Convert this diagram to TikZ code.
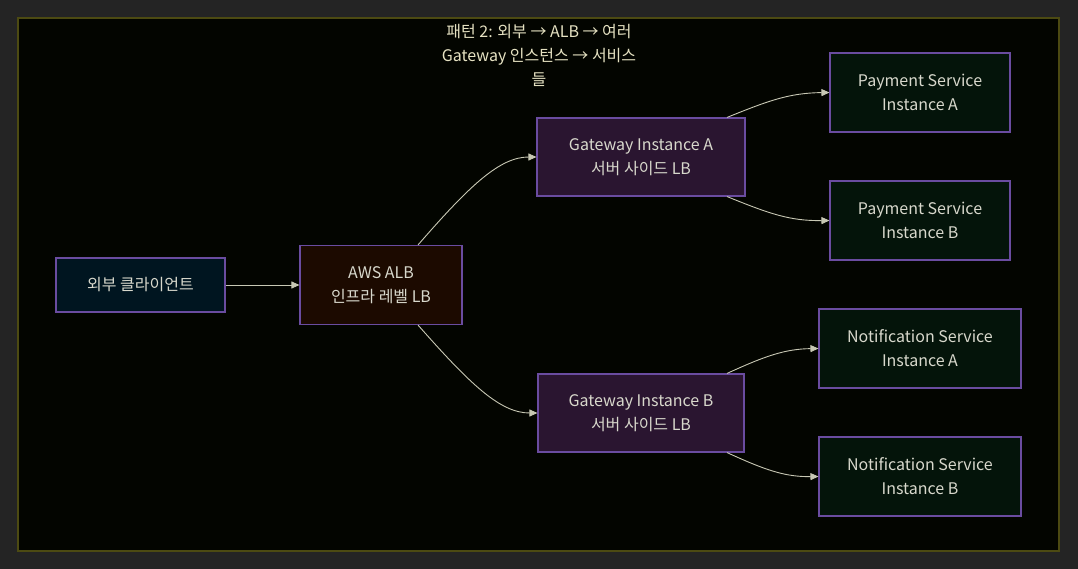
\documentclass[tikz,border=0pt]{standalone}
\usepackage{fontspec}
\setmainfont{Noto Sans CJK KR}
\usetikzlibrary{arrows.meta}
\definecolor{bgout}{HTML}{242424}
\definecolor{bgin}{HTML}{030500}
\definecolor{frameline}{HTML}{4C4A12}
\definecolor{boxline}{HTML}{6A4CA0}
\definecolor{clientfill}{HTML}{001520}
\definecolor{albfill}{HTML}{1C0A00}
\definecolor{gwfill}{HTML}{2A1530}
\definecolor{svcfill}{HTML}{04140A}
\definecolor{txt}{HTML}{D8D8CC}
\definecolor{titletxt}{HTML}{E6E2C2}
\definecolor{edge}{HTML}{C8C8B4}
\begin{document}
\begin{tikzpicture}[x=1pt,y=-1pt,
  box/.style={draw=boxline, line width=1.1pt, text=txt, align=center, inner sep=0pt,
    font=\fontsize{16}{24}\selectfont},
  conn/.style={draw=edge, line width=0.9pt, -{Triangle[length=8pt,width=7pt]}}]
\fill[bgout] (0,0) rectangle (1078,569);
\useasboundingbox (0,0) rectangle (1078,569);
\draw[fill=bgin, draw=frameline, line width=1.2pt] (18,18) rectangle (1059,551);
\node[text=titletxt, align=center, font=\fontsize{16}{24}\selectfont] (title) at (539,55)
  {패턴 2: 외부 → ALB → 여러\\Gateway 인스턴스 → 서비스\\들};
\node[box, fill=clientfill, minimum width=169pt, minimum height=54pt] (client) at (140.5,285) {외부 클라이언트};
\node[box, fill=albfill, minimum width=162pt, minimum height=79pt] (alb) at (381,285) {AWS ALB\\인프라 레벨 LB};
\node[box, fill=gwfill, minimum width=208pt, minimum height=78pt] (gwa) at (641,157) {Gateway Instance A\\서버 사이드 LB};
\node[box, fill=gwfill, minimum width=206pt, minimum height=78pt] (gwb) at (641,413) {Gateway Instance B\\서버 사이드 LB};
\node[box, fill=svcfill, minimum width=180pt, minimum height=79pt] (pa) at (920,92.5) {Payment Service\\Instance A};
\node[box, fill=svcfill, minimum width=180pt, minimum height=79pt] (pb) at (920,220.5) {Payment Service\\Instance B};
\node[box, fill=svcfill, minimum width=202pt, minimum height=79pt] (na) at (920,348.5) {Notification Service\\Instance A};
\node[box, fill=svcfill, minimum width=202pt, minimum height=79pt] (nb) at (920,476.5) {Notification Service\\Instance B};
\draw[conn] (client.east) -- (alb.west);
\draw[conn] ([xshift=37pt]alb.north) .. controls (470,185) and (500,157) .. (gwa.west);
\draw[conn] ([xshift=37pt]alb.south) .. controls (470,384) and (500,413) .. (gwb.west);
\draw[conn] ([xshift=86pt]gwa.north) .. controls (770,100) and (790,93) .. (pa.west);
\draw[conn] ([xshift=86pt]gwa.south) .. controls (770,214) and (790,221) .. (pb.west);
\draw[conn] ([xshift=86pt]gwb.north) .. controls (765,356) and (785,349) .. (na.west);
\draw[conn] ([xshift=86pt]gwb.south) .. controls (765,470) and (785,477) .. (nb.west);
\end{tikzpicture}
\end{document}
